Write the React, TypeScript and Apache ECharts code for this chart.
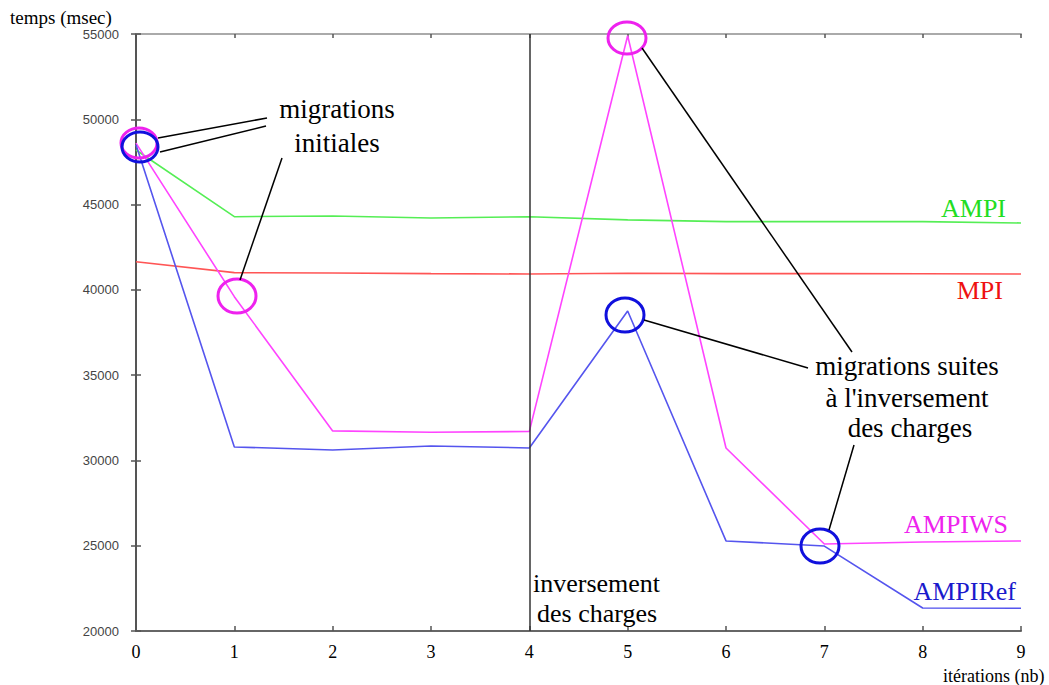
import React, { useEffect, useRef } from "react";
import * as echarts from "echarts";

const iterations = [0, 1, 2, 3, 4, 5, 6, 7, 8, 9];
const ampi = [48200, 44290, 44330, 44210, 44290, 44100, 44000, 44000, 44000, 43920];
const mpi = [41650, 41010, 40990, 40950, 40930, 40970, 40950, 40950, 40940, 40930];
const ampiws = [48600, 39600, 31730, 31650, 31700, 54900, 30730, 25100, 25220, 25280];
const ampiref = [48500, 30790, 30610, 30850, 30730, 38760, 25280, 24980, 21350, 21330];
const inversionIteration = 4;

const SERIF = '"Liberation Serif", "Times New Roman", serif';

function pairs(values: number[]) {
  return iterations.map((x, i) => [x, values[i]]);
}

function txt(text: string, x: number, y: number, size: number, fill: string, align: string) {
  return {
    type: "text",
    z: 100,
    style: {
      text,
      x,
      y,
      font: `${size}px ${SERIF}`,
      fill,
      align,
      verticalAlign: "middle",
      textAlign: align,
      textVerticalAlign: "middle",
    },
  };
}

function ell(cx: number, cy: number, rx: number, ry: number, stroke: string) {
  return {
    type: "ellipse",
    z: 100,
    shape: { cx, cy, rx, ry },
    style: { fill: "none", stroke, lineWidth: 3 },
  };
}

function seg(x1: number, y1: number, x2: number, y2: number) {
  return {
    type: "line",
    z: 100,
    shape: { x1, y1, x2, y2 },
    style: { stroke: "#000", lineWidth: 1.5 },
  };
}

export default function App() {
  const ref = useRef<HTMLDivElement>(null);
  useEffect(() => {
    if (!ref.current) return;
    const chart = echarts.init(ref.current, undefined, { renderer: "svg" });
    const lineSeries = (name: string, data: number[], color: string) => ({
      name,
      type: "line",
      data: pairs(data),
      showSymbol: false,
      symbol: "none",
      lineStyle: { color, width: 1.6 },
      itemStyle: { color },
      z: 3,
    });
    chart.setOption({
      animation: false,
      backgroundColor: "#fff",
      grid: { left: 136, top: 34, right: 28, bottom: 54 },
      xAxis: [
        {
          type: "value",
          min: 0,
          max: 9,
          interval: 1,
          position: "bottom",
          axisLine: { show: true, lineStyle: { color: "#666", width: 2 } },
          axisTick: { show: true, inside: true, length: 5, lineStyle: { color: "#555", width: 1.5 } },
          axisLabel: { color: "#000", fontFamily: "Liberation Serif", fontSize: 18, margin: 12 },
          splitLine: { show: false },
        },
        {
          type: "value",
          min: 0,
          max: 9,
          interval: 1,
          position: "top",
          axisLine: { show: true, lineStyle: { color: "#aaa", width: 2 } },
          axisTick: { show: true, inside: true, length: 4, lineStyle: { color: "#555", width: 1.5 } },
          axisLabel: { show: false },
          splitLine: { show: false },
        },
      ],
      yAxis: [
        {
          type: "value",
          min: 20000,
          max: 55000,
          interval: 5000,
          position: "left",
          axisLine: { show: true, lineStyle: { color: "#555", width: 2 } },
          axisTick: { show: true, inside: true, length: 5, lineStyle: { color: "#555", width: 1.5 } },
          axisLabel: {
            color: "#444",
            fontFamily: "Liberation Sans",
            fontSize: 13,
            margin: 17,
            formatter: (v: number) => String(v),
          },
          splitLine: { show: false },
        },
        {
          type: "value",
          min: 20000,
          max: 55000,
          interval: 5000,
          position: "right",
          axisLine: { show: true, lineStyle: { color: "#555", width: 2 } },
          axisTick: { show: true, inside: true, length: 5, lineStyle: { color: "#555", width: 1.5 } },
          axisLabel: { show: false },
          splitLine: { show: false },
        },
      ],
      series: [
        {
          ...lineSeries("MPI", mpi, "#ff5555"),
          markLine: {
            silent: true,
            symbol: "none",
            label: { show: false },
            lineStyle: { color: "#333", width: 1.5, type: "solid" },
            data: [{ xAxis: inversionIteration }],
          },
        },
        lineSeries("AMPI", ampi, "#55ee55"),
        lineSeries("AMPIWS", ampiws, "#ff44ff"),
        lineSeries("AMPIRef", ampiref, "#5555ee"),
      ],
      graphic: [
        txt("temps (msec)", 10, 17, 19, "#000", "left"),
        txt("itérations (nb)", 943, 676, 18, "#000", "left"),
        txt("AMPI", 1006, 208, 26, "#22dd22", "right"),
        txt("MPI", 1003, 290, 26, "#ee1111", "right"),
        txt("AMPIWS", 1008, 524, 26, "#ee22ee", "right"),
        txt("AMPIRef", 1016, 591, 26, "#1a1acc", "right"),
        txt("migrations", 337, 109, 27, "#000", "center"),
        txt("initiales", 337, 143, 27, "#000", "center"),
        txt("migrations suites", 907, 366, 27, "#000", "center"),
        txt("à l'inversement", 907, 398, 27, "#000", "center"),
        txt("des charges", 910, 428, 27, "#000", "center"),
        txt("inversement", 533, 583, 26, "#000", "left"),
        txt("des charges", 537, 613, 26, "#000", "left"),
        ell(139, 143, 18, 15, "#ee22ee"),
        ell(140, 147, 18, 15, "#1010dd"),
        ell(237, 296, 19, 17, "#ee22ee"),
        ell(627, 38, 19, 16, "#ee22ee"),
        ell(625, 315, 19, 17, "#1010dd"),
        ell(820, 546, 19, 17, "#1010dd"),
        seg(158, 138, 267, 118),
        seg(160, 152, 266, 126),
        seg(240, 280, 282, 158),
        seg(642, 48, 852, 352),
        seg(644, 320, 808, 368),
        seg(854, 445, 829, 530),
      ],
    });
    return () => chart.dispose();
  }, []);
  return (
    <div
      ref={ref}
      style={{ position: "absolute", left: 0, top: 0, width: 1049, height: 685 }}
    />
  );
}
